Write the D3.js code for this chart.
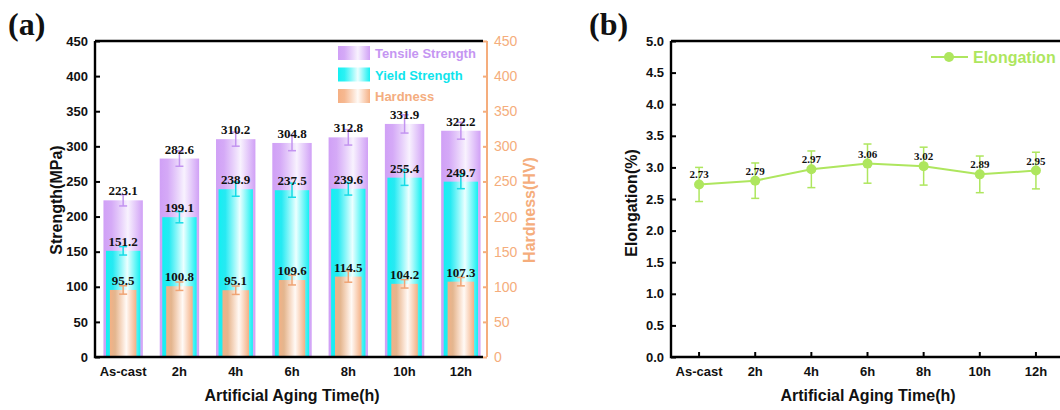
<!DOCTYPE html>
<html><head><meta charset="utf-8">
<script src="https://cdn.jsdelivr.net/npm/d3@7"></script>
<style>body{margin:0;background:#fff;} svg{display:block;}</style>
</head><body><svg id="c" width="1060" height="410"></svg>
<script>
const categories = ["As-cast","2h","4h","6h","8h","10h","12h"];
const tensile = [223.1,282.6,310.2,304.8,312.8,331.9,322.2];
const tensileErr = [8,11,10,11,11,13,12];
const yieldS = [151.2,199.1,238.9,237.5,239.6,255.4,249.7];
const yieldErr = [6,8,10,10,9,11,10];
const hardness = [95.5,100.8,95.1,109.6,114.5,104.2,107.3];
const hardnessErr = [6,6,6,7,8,6,6];
const elongation = [2.73,2.79,2.97,3.06,3.02,2.89,2.95];
const elongationErr = [0.27,0.28,0.29,0.31,0.30,0.29,0.29];
const strengthTicks = [0,50,100,150,200,250,300,350,400,450];
const elongTicks = [0,0.5,1,1.5,2,2.5,3,3.5,4,4.5,5];
const seriesNames = ["Tensile Strength","Yield Strength","Hardness"];

(function(){
const SANS = "'Liberation Sans', Arial, sans-serif";
const SERIF = "'Liberation Serif', 'Times New Roman', serif";
const svg = d3.select("#c");
const defs = svg.append("defs");

const cols = {
  t: {c:"#d0a0f6", mid:"#f8f2fe", err:"#c394f0", text:"#c596f2"},
  y: {c:"#14f0f2", mid:"#ecffff", err:"#16dce6", text:"#10e4ec"},
  h: {c:"#f5b084", mid:"#fffaf6", err:"#f0a474", text:"#f4ad80"}
};
function grad(id, c, mid){
  const g = defs.append("linearGradient").attr("id", id).attr("x1","0").attr("x2","1").attr("y1","0").attr("y2","0");
  g.append("stop").attr("offset","0").attr("stop-color", c);
  g.append("stop").attr("offset","0.2").attr("stop-color", c).attr("stop-opacity",0.9);
  g.append("stop").attr("offset","0.62").attr("stop-color", mid);
  g.append("stop").attr("offset","1").attr("stop-color", c);
}
grad("gt", cols.t.c, cols.t.mid);
grad("gy", cols.y.c, cols.y.mid);
grad("gh", cols.h.c, cols.h.mid);

// ---------------- Panel (a) ----------------
const aL = 95, aR = 483, pTop = 41, pBot = 357;
const xa = d3.scaleBand().domain(categories).range([95, 489]);
const ya = d3.scaleLinear().domain([0,450]).range([pBot, pTop]);
const ga = svg.append("g");

function bars(vals, widthFrac, fill){
  const bw = xa.bandwidth()*widthFrac;
  ga.append("g").selectAll("rect").data(vals).join("rect")
    .attr("x", (d,i)=> xa(categories[i]) + xa.bandwidth()/2 - bw/2)
    .attr("width", bw)
    .attr("y", d=> ya(d))
    .attr("height", d=> ya(0)-ya(d))
    .attr("fill", fill);
}
function errbars(vals, errs, errCol, capW){
  const g = ga.append("g").attr("stroke", errCol).attr("stroke-width",1.5).attr("fill","none");
  vals.forEach((d,i)=>{
    const cx = xa(categories[i]) + xa.bandwidth()/2;
    g.append("line").attr("x1",cx).attr("x2",cx).attr("y1",ya(d-errs[i])).attr("y2",ya(d+errs[i]));
    g.append("line").attr("x1",cx-capW/2).attr("x2",cx+capW/2).attr("y1",ya(d-errs[i])).attr("y2",ya(d-errs[i]));
    g.append("line").attr("x1",cx-capW/2).attr("x2",cx+capW/2).attr("y1",ya(d+errs[i])).attr("y2",ya(d+errs[i]));
  });
}
function labels(vals){
  ga.append("g").selectAll("text").data(vals).join("text")
    .attr("x", (d,i)=> xa(categories[i]) + xa.bandwidth()/2)
    .attr("y", d=> ya(d)-5)
    .attr("text-anchor","middle")
    .attr("font-family", SERIF).attr("font-weight","bold").attr("font-size",13)
    .attr("fill","#111")
    .text(d=> d.toFixed(1));
}
bars(tensile, 0.70, "url(#gt)");
bars(yieldS, 0.61, "url(#gy)");
bars(hardness, 0.47, "url(#gh)");
errbars(tensile, tensileErr, cols.t.err, 8);
errbars(yieldS, yieldErr, cols.y.err, 8);
errbars(hardness, hardnessErr, cols.h.err, 8);
labels(tensile); labels(yieldS); labels(hardness);

// axes (a)
const axL = ga.append("g").attr("transform",`translate(${aL},0)`)
  .call(d3.axisLeft(ya).tickValues(strengthTicks).tickSizeInner(-5).tickSizeOuter(0).tickPadding(7));
axL.select(".domain").remove();
axL.selectAll("line").attr("stroke","#000").attr("stroke-width",2);
axL.selectAll("text").attr("font-family",SANS).attr("font-weight","bold").attr("font-size",13).attr("fill","#111");

const axR = ga.append("g").attr("transform",`translate(487,0)`)
  .call(d3.axisRight(ya).tickValues(strengthTicks).tickSizeInner(-4).tickSizeOuter(0).tickPadding(7));
axR.select(".domain").remove();
axR.selectAll("line").attr("stroke","#f5ad7c").attr("stroke-width",2);
axR.selectAll("text").attr("font-family",SANS).attr("font-size",14).attr("fill","#f5ad7c");
ga.append("line").attr("x1",487).attr("x2",487).attr("y1",pTop).attr("y2",pBot).attr("stroke","#f5ad7c").attr("stroke-width",2);

const axB = ga.append("g").attr("transform",`translate(0,${pBot})`)
  .call(d3.axisBottom(xa).tickSize(0).tickPadding(10));
axB.select(".domain").remove();
axB.selectAll("text").attr("font-family",SANS).attr("font-weight","bold").attr("font-size",13).attr("fill","#111");

ga.append("path").attr("d",`M${aL},${pTop}H${aR}M${aL},${pTop}V${pBot}H${aR}`)
  .attr("fill","none").attr("stroke","#000").attr("stroke-width",2.4);

ga.append("text").attr("x",292).attr("y",401).attr("text-anchor","middle")
  .attr("font-family",SANS).attr("font-weight","bold").attr("font-size",16).attr("fill","#111")
  .text("Artificial Aging Time(h)");
ga.append("text").attr("transform","translate(62,200) rotate(-90)").attr("text-anchor","middle")
  .attr("font-family",SANS).attr("font-weight","bold").attr("font-size",16).attr("fill","#111")
  .text("Strength(MPa)");
ga.append("text").attr("transform","translate(535,210) rotate(-90)").attr("text-anchor","middle")
  .attr("font-family",SANS).attr("font-weight","bold").attr("font-size",16).attr("fill","#f5ad7c")
  .text("Hardness(HV)");
ga.append("text").attr("x",8).attr("y",35).attr("font-family",SERIF).attr("font-weight","bold")
  .attr("font-size",32).attr("fill","#111").text("(a)");

// legend (a)
const legFill = ["url(#gt)","url(#gy)","url(#gh)"];
const legCol = [cols.t.text, cols.y.text, cols.h.text];
const lg = ga.append("g");
seriesNames.forEach((n,i)=>{
  const cy = 53 + i*21.5;
  lg.append("rect").attr("x",338).attr("y",cy-7).attr("width",32).attr("height",14).attr("fill",legFill[i]);
  lg.append("text").attr("x",375).attr("y",cy+5).attr("font-family",SANS).attr("font-weight","bold")
    .attr("font-size",13).attr("fill",legCol[i]).text(n);
});

// ---------------- Panel (b) ----------------
const bL = 671;
const xb = d3.scaleBand().domain(categories).range([671, 1064]);
const yb = d3.scaleLinear().domain([0,5]).range([pBot, pTop]);
const gb = svg.append("g");
const green = "#aee65e";
const cxb = c => xb(c) + xb.bandwidth()/2;

const byL = gb.append("g").attr("transform",`translate(${bL},0)`)
  .call(d3.axisLeft(yb).tickValues(elongTicks).tickSizeInner(-5).tickSizeOuter(0).tickPadding(7).tickFormat(d3.format(".1f")));
byL.select(".domain").remove();
byL.selectAll("line").attr("stroke","#000").attr("stroke-width",2);
byL.selectAll("text").attr("font-family",SANS).attr("font-weight","bold").attr("font-size",13).attr("fill","#111");

const byB = gb.append("g").attr("transform",`translate(0,${pBot})`)
  .call(d3.axisBottom(xb).tickSizeInner(-5).tickSizeOuter(0).tickPadding(10));
byB.select(".domain").remove();
byB.selectAll("line").attr("stroke","#000").attr("stroke-width",2);
byB.selectAll("text").attr("font-family",SANS).attr("font-weight","bold").attr("font-size",13).attr("fill","#111");

gb.append("path").attr("d",`M${bL},${pTop}H1060M${bL},${pTop}V${pBot}H1060`)
  .attr("fill","none").attr("stroke","#000").attr("stroke-width",2.4);

const eg = gb.append("g").attr("stroke", green).attr("stroke-width",1.5);
elongation.forEach((d,i)=>{
  const cx = cxb(categories[i]);
  const lo = yb(d-elongationErr[i]), hi = yb(d+elongationErr[i]);
  eg.append("line").attr("x1",cx).attr("x2",cx).attr("y1",lo).attr("y2",hi);
  eg.append("line").attr("x1",cx-4).attr("x2",cx+4).attr("y1",lo).attr("y2",lo);
  eg.append("line").attr("x1",cx-4).attr("x2",cx+4).attr("y1",hi).attr("y2",hi);
});
gb.append("path").datum(elongation)
  .attr("d", d3.line().x((d,i)=>cxb(categories[i])).y(d=>yb(d)))
  .attr("fill","none").attr("stroke",green).attr("stroke-width",2);
gb.append("g").selectAll("circle").data(elongation).join("circle")
  .attr("cx",(d,i)=>cxb(categories[i])).attr("cy",d=>yb(d)).attr("r",5).attr("fill",green);
gb.append("g").selectAll("text").data(elongation).join("text")
  .attr("x",(d,i)=>cxb(categories[i])).attr("y",d=>yb(d)-6).attr("text-anchor","middle")
  .attr("font-family",SERIF).attr("font-weight","bold").attr("font-size",11).attr("fill","#111")
  .text(d=>d.toFixed(2));

gb.append("text").attr("x",868).attr("y",401).attr("text-anchor","middle")
  .attr("font-family",SANS).attr("font-weight","bold").attr("font-size",16).attr("fill","#111")
  .text("Artificial Aging Time(h)");
gb.append("text").attr("transform","translate(637,203) rotate(-90)").attr("text-anchor","middle")
  .attr("font-family",SANS).attr("font-weight","bold").attr("font-size",16).attr("fill","#111")
  .text("Elongation(%)");
gb.append("text").attr("x",589).attr("y",35).attr("font-family",SERIF).attr("font-weight","bold")
  .attr("font-size",32).attr("fill","#111").text("(b)");

gb.append("line").attr("x1",931).attr("x2",968).attr("y1",57).attr("y2",57).attr("stroke",green).attr("stroke-width",2);
gb.append("circle").attr("cx",949).attr("cy",57).attr("r",5).attr("fill",green);
gb.append("text").attr("x",973).attr("y",63).attr("font-family",SANS).attr("font-weight","bold")
  .attr("font-size",16).attr("fill",green).text("Elongation");
})();
</script></body></html>
